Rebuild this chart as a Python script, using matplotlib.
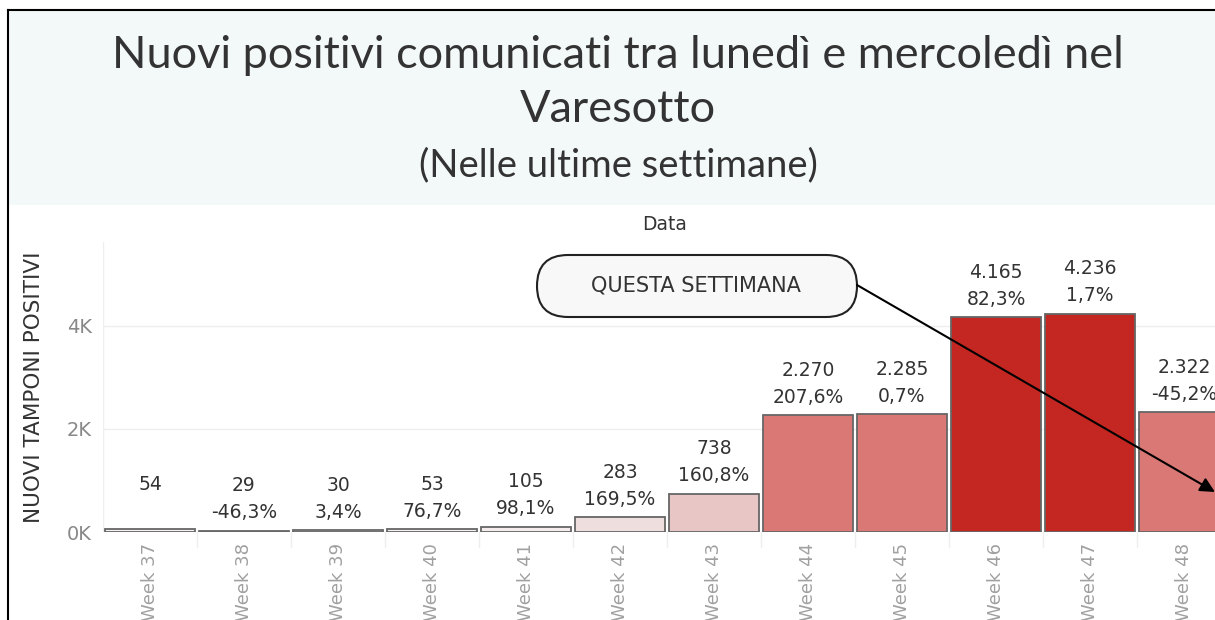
import matplotlib
matplotlib.use("Agg")
import matplotlib.pyplot as plt
from matplotlib.patches import FancyBboxPatch, Rectangle

# --- dati ---
settimane = ["Week 37", "Week 38", "Week 39", "Week 40", "Week 41", "Week 42",
             "Week 43", "Week 44", "Week 45", "Week 46", "Week 47", "Week 48"]
positivi = [54, 29, 30, 53, 105, 283, 738, 2270, 2285, 4165, 4236, 2322]
variazioni = ["", "-46,3%", "3,4%", "76,7%", "98,1%", "169,5%", "160,8%",
              "207,6%", "0,7%", "82,3%", "1,7%", "-45,2%"]
colori = ["#f7f0f0", "#f7f0f0", "#f7f0f0", "#f7f0f0", "#f5ecec", "#efdede",
          "#e8c6c5", "#d97874", "#d97874", "#c42722", "#c42722", "#d97874"]
y_ticks = [0, 2000, 4000]
y_tick_labels = ["0K", "2K", "4K"]

TITLE_FONT = "Lato"
FONT = "DejaVu Sans"
W, H = 1215, 620

fig = plt.figure(figsize=(W / 100, H / 100), dpi=100)
fig.patch.set_facecolor("white")

# sfondo: fascia del titolo e cornice (coordinate in pixel)
bg = fig.add_axes([0, 0, 1, 1], zorder=0)
bg.set_xlim(0, W)
bg.set_ylim(H, 0)
bg.axis("off")
bg.add_patch(Rectangle((8, 10), W, 195, facecolor="#f3f8f8", edgecolor="none"))
bg.plot([8, 8], [10, H], color="black", lw=1.5)
bg.plot([8, W], [10, 10], color="black", lw=1.5)

bg.text(618, 55, "Nuovi positivi comunicati tra lunedì e mercoledì nel",
        ha="center", va="center", fontsize=32.5, family=TITLE_FONT, color="#333333")
bg.text(618, 110, "Varesotto", ha="center", va="center", fontsize=32.5,
        family=TITLE_FONT, color="#333333")
bg.text(618, 165, "(Nelle ultime settimane)", ha="center", va="center",
        fontsize=27.5, family=TITLE_FONT, color="#333333")

# --- grafico a barre ---
left, right, top, bottom = 103, 1231, 242, 532
ax = fig.add_axes([left / W, (H - bottom) / H, (right - left) / W, (bottom - top) / H],
                  zorder=1)
ax.patch.set_alpha(0)
x = list(range(len(settimane)))
ax.bar(x, positivi, width=0.95, color=colori, edgecolor="#666666", linewidth=1.3,
       zorder=3)
ax.set_xlim(-0.5, len(settimane) - 0.5)
ax.set_ylim(0, 5630)

for i, (v, p) in enumerate(zip(positivi, variazioni)):
    ax.annotate(f"{v:,}".replace(",", "."), (i, v), xytext=(0, 45),
                textcoords="offset pixels", ha="center", va="center",
                fontsize=13.5, family=FONT, color="#333333")
    if p:
        ax.annotate(p, (i, v), xytext=(0, 18), textcoords="offset pixels",
                    ha="center", va="center", fontsize=13.5, family=FONT,
                    color="#333333")

ax.set_yticks(y_ticks)
ax.set_yticklabels(y_tick_labels, family=FONT, fontsize=14, color="#888888")
ax.set_xticks(x)
ax.set_xticklabels(settimane, rotation=90, family=FONT, fontsize=13,
                   color="#a0a0a0", va="top")
ax.tick_params(axis="both", length=0, pad=8)
ax.grid(axis="y", color="#eeeeee", lw=1, zorder=0)
for s in ax.spines.values():
    s.set_visible(False)
ax.axvline(-0.5, color="#eeeeee", lw=1, zorder=0)
for b in range(1, len(settimane)):
    ax.plot([b - 0.5, b - 0.5], [0, -0.05], transform=ax.get_xaxis_transform(),
            color="#eeeeee", lw=1, clip_on=False)

ax.set_ylabel("NUOVI TAMPONI POSITIVI", family=FONT, fontsize=15.5,
              color="#333333")
ax.yaxis.set_label_coords(-0.052, 0.5)

# --- annotazione ---
fg = fig.add_axes([0, 0, 1, 1], zorder=2)
fg.set_xlim(0, W)
fg.set_ylim(H, 0)
fg.axis("off")
fg.text(665, 225, "Data", ha="center", va="center", fontsize=13.5, family=FONT,
        color="#333333")
fg.add_patch(FancyBboxPatch((537, 255), 320, 62,
                            boxstyle="round,pad=0,rounding_size=31",
                            facecolor="#f8f8f8", edgecolor="#222222", lw=1.5))
fg.text(696, 286, "QUESTA SETTIMANA", ha="center", va="center", fontsize=15,
        family=FONT, color="#333333")
fg.annotate("", xy=(1215, 492), xytext=(857, 285),
            arrowprops=dict(arrowstyle="-|>", color="black", lw=1.5,
                            mutation_scale=22, shrinkA=0, shrinkB=0))

fig.savefig("out.png", dpi=100)
